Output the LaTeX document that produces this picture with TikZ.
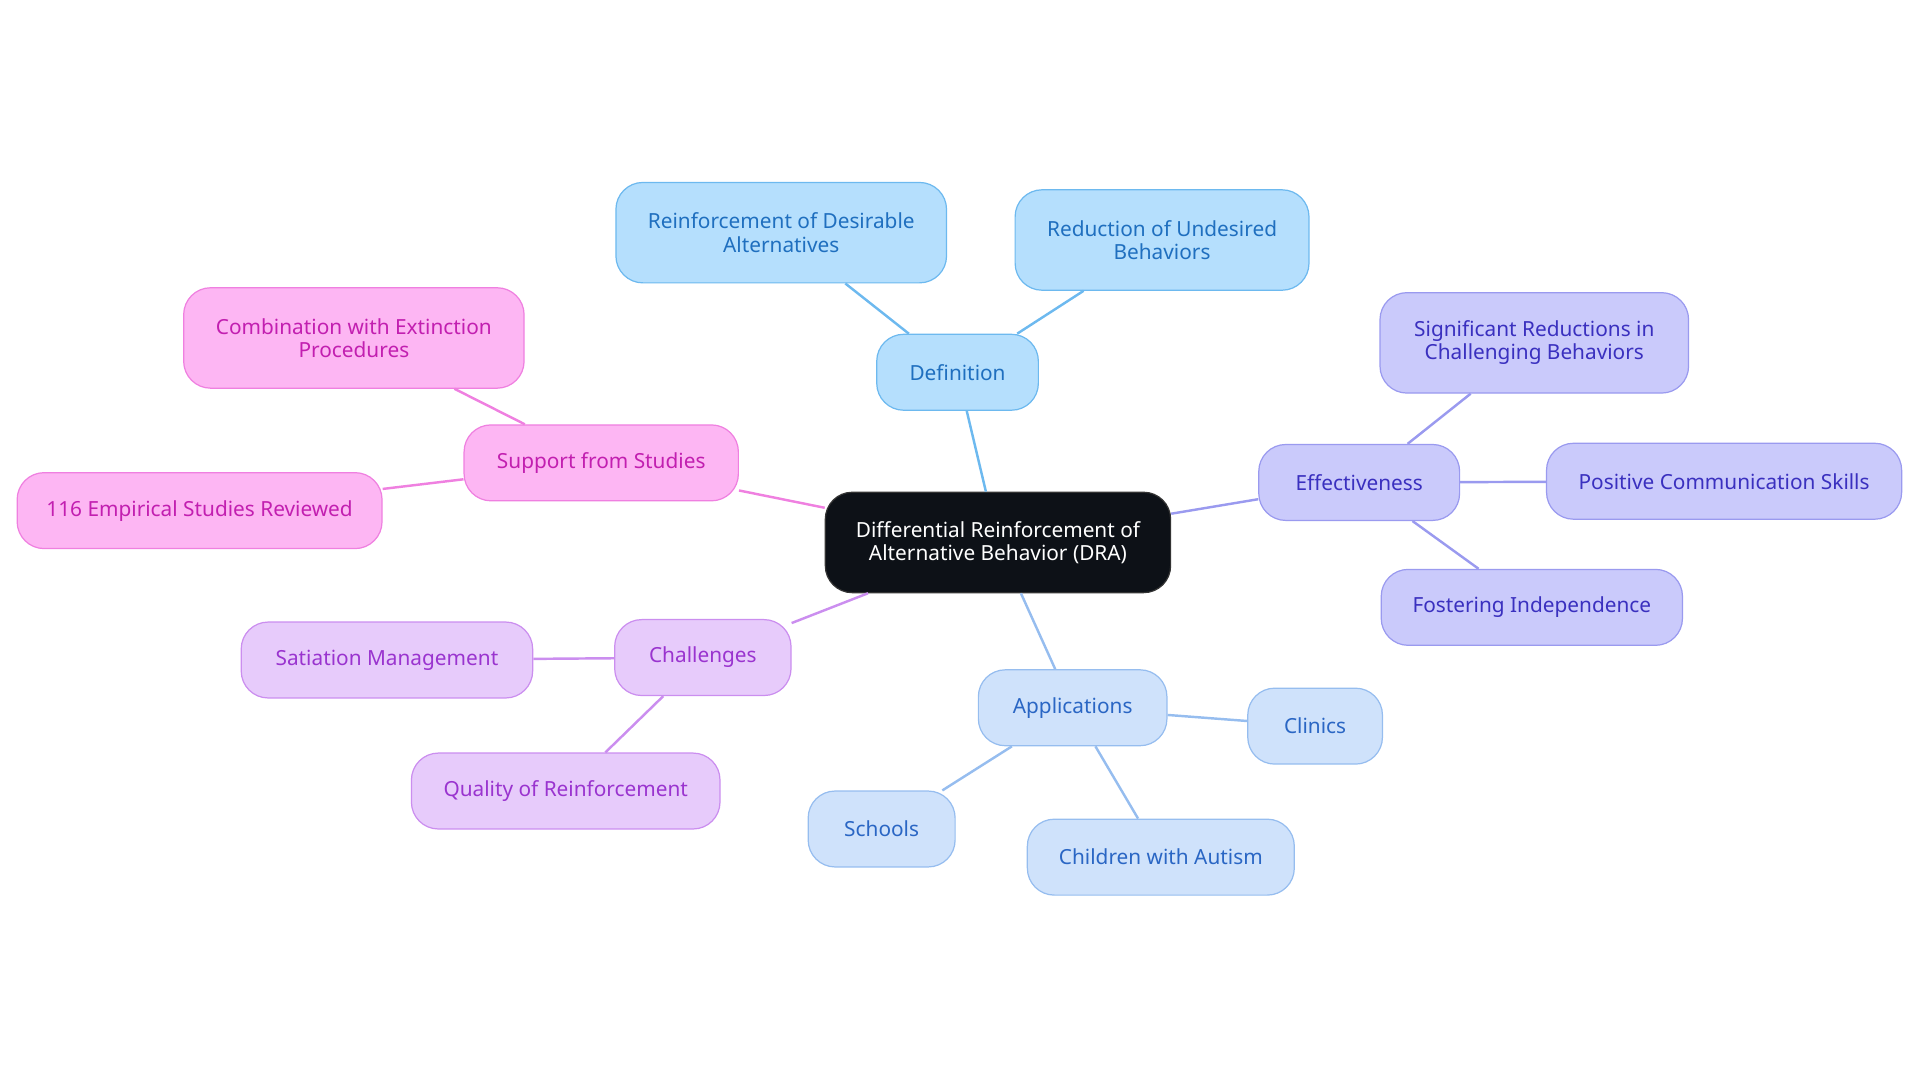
\documentclass[tikz,border=0pt]{standalone}
\usepackage{fontspec}
\setmainfont{Noto Sans}
\begin{document}
\begin{tikzpicture}[x=1pt,y=-1pt,
 base/.style={rounded corners=22pt,draw,line width=1pt,align=center,font=\fontsize{17}{19}\selectfont,inner sep=0pt},
 nd/.style n args={2}{base,minimum width=#1,minimum height=#2},
 cdef/.style={fill=defF,draw=defD,text=defT},
 ceff/.style={fill=effF,draw=effD,text=effT},
 capp/.style={fill=appF,draw=appD,text=appT},
 ccha/.style={fill=chaF,draw=chaD,text=chaT},
 csup/.style={fill=supF,draw=supD,text=supT},
 ln/.style={line width=2pt}]
\definecolor{defF}{HTML}{B5DFFD}\definecolor{defD}{HTML}{6DB9EF}\definecolor{defT}{HTML}{1F6FBF}
\definecolor{effF}{HTML}{CACAFB}\definecolor{effD}{HTML}{9A9AEF}\definecolor{effT}{HTML}{3A30BF}
\definecolor{appF}{HTML}{CFE2FB}\definecolor{appD}{HTML}{96BDEF}\definecolor{appT}{HTML}{2A66C4}
\definecolor{chaF}{HTML}{E7CBFB}\definecolor{chaD}{HTML}{CB8EEF}\definecolor{chaT}{HTML}{9A34CF}
\definecolor{supF}{HTML}{FDB6F3}\definecolor{supD}{HTML}{EF80E0}\definecolor{supT}{HTML}{C21FB0}
\useasboundingbox (0,0) rectangle (1568,884);
% edges first (behind nodes)
\coordinate (c) at (815,443);
\node[nd={282pt}{82pt},base,fill=black!90!blue!60!black,draw=black!80,text=white,fill={rgb,255:red,13;green,17;blue,23}] (ctr) at (815,443) {Differential Reinforcement of\\Alternative Behavior (DRA)};
\node[nd={132pt}{62pt},cdef] (def) at (782,304) {Definition};
\node[nd={270pt}{82pt},cdef] (d1) at (638,190) {Reinforcement of Desirable\\Alternatives};
\node[nd={240pt}{82pt},cdef] (d2) at (949,196) {Reduction of Undesired\\Behaviors};
\node[nd={164pt}{62pt},ceff] (eff) at (1110,394) {Effectiveness};
\node[nd={252pt}{82pt},ceff] (e1) at (1253,280) {Significant Reductions in\\Challenging Behaviors};
\node[nd={290pt}{62pt},ceff] (e2) at (1408,393) {Positive Communication Skills};
\node[nd={246pt}{62pt},ceff] (e3) at (1251,496) {Fostering Independence};
\node[nd={154pt}{62pt},capp] (app) at (876,578) {Applications};
\node[nd={110pt}{62pt},capp] (a1) at (1074,593) {Clinics};
\node[nd={218pt}{62pt},capp] (a2) at (948,700) {Children with Autism};
\node[nd={120pt}{62pt},capp] (a3) at (720,677) {Schools};
\node[nd={144pt}{62pt},ccha] (cha) at (574,537) {Challenges};
\node[nd={238pt}{62pt},ccha] (c1) at (316,539) {Satiation Management};
\node[nd={252pt}{62pt},ccha] (c2) at (462,646) {Quality of Reinforcement};
\node[nd={224pt}{62pt},csup] (sup) at (491,378) {Support from Studies};
\node[nd={278pt}{82pt},csup] (s1) at (289,276) {Combination with Extinction\\Procedures};
\node[nd={298pt}{62pt},csup] (s2) at (163,417) {116 Empirical Studies Reviewed};
\begin{scope}[on background layer/.try]
\end{scope}
\draw[ln,defD] (ctr) -- (def); \draw[ln,defD] (def) -- (d1); \draw[ln,defD] (def) -- (d2);
\draw[ln,effD] (ctr) -- (eff); \draw[ln,effD] (eff) -- (e1); \draw[ln,effD] (eff) -- (e2); \draw[ln,effD] (eff) -- (e3);
\draw[ln,appD] (ctr) -- (app); \draw[ln,appD] (app) -- (a1); \draw[ln,appD] (app) -- (a2); \draw[ln,appD] (app) -- (a3);
\draw[ln,chaD] (ctr) -- (cha); \draw[ln,chaD] (cha) -- (c1); \draw[ln,chaD] (cha) -- (c2);
\draw[ln,supD] (ctr) -- (sup); \draw[ln,supD] (sup) -- (s1); \draw[ln,supD] (sup) -- (s2);
\end{tikzpicture}
\end{document}
